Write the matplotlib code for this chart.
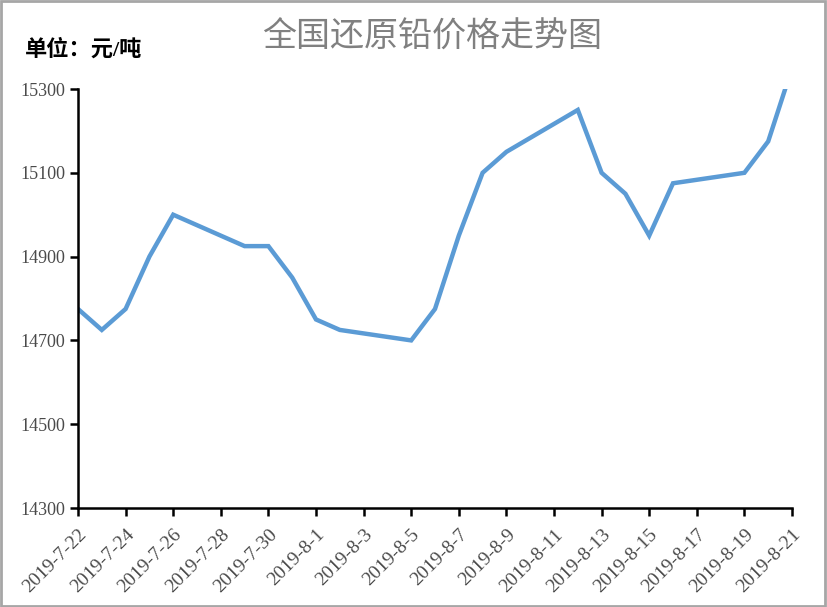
import datetime as dt
import matplotlib
matplotlib.use('Agg')
import matplotlib.pyplot as plt
import matplotlib.dates as mdates

plt.rcParams['font.family'] = ['Liberation Serif', 'Noto Sans CJK SC', 'DejaVu Sans']

# 日期与价格
dates = ['2019-07-22', '2019-07-23', '2019-07-24', '2019-07-25', '2019-07-26',
         '2019-07-29', '2019-07-30', '2019-07-31', '2019-08-01', '2019-08-02',
         '2019-08-05', '2019-08-06', '2019-08-07', '2019-08-08', '2019-08-09',
         '2019-08-12', '2019-08-13', '2019-08-14', '2019-08-15', '2019-08-16',
         '2019-08-19', '2019-08-20', '2019-08-21']
prices = [14775, 14725, 14775, 14900, 15000,
          14925, 14925, 14850, 14750, 14725,
          14700, 14775, 14950, 15100, 15150,
          15250, 15100, 15050, 14950, 15075,
          15100, 15175, 15350]
yticks = [14300, 14500, 14700, 14900, 15100, 15300]

x = [dt.datetime.strptime(d, '%Y-%m-%d') for d in dates]

fig = plt.figure(figsize=(8.27, 6.07), dpi=100)
ax = fig.add_axes([78/827, 1-508/607, (792-78)/827, (508-89)/607])

ax.plot(x, prices, color='#5b9bd5', lw=3.2, solid_joinstyle='miter')

ax.set_ylim(14300, 15300)
ax.set_yticks(yticks)
ax.set_xlim(x[0], x[-1])

tick_days = [x[0] + dt.timedelta(days=2*i) for i in range(16)]
ax.set_xticks(tick_days)
ax.set_xticklabels([f'{d.year}-{d.month}-{d.day}' for d in tick_days],
                   rotation=45, ha='right', rotation_mode='anchor')

for s in ['top', 'right']:
    ax.spines[s].set_visible(False)
for s in ['left', 'bottom']:
    ax.spines[s].set_linewidth(1.8)
ax.tick_params(axis='both', direction='out', length=6, width=1.8,
               labelsize=13, labelcolor='#4a4a4a', pad=3)
ax.tick_params(axis='x', labelsize=14, pad=7)

fig.text(432/827, 1-38/607, '全国还原铅价格走势图', ha='center', va='center',
         fontsize=24.5, color='#808080')
fig.text(25/827, 1-50/607, '单位：元/吨', ha='left', va='center',
         fontsize=16, fontweight='bold', color='black')

# 外框
fig.patches.append(plt.Rectangle((0.001, 0.002), 0.997, 0.996, transform=fig.transFigure,
                                 fill=False, edgecolor='#a6a6a6', lw=2))

fig.savefig('out.png', dpi=100)
